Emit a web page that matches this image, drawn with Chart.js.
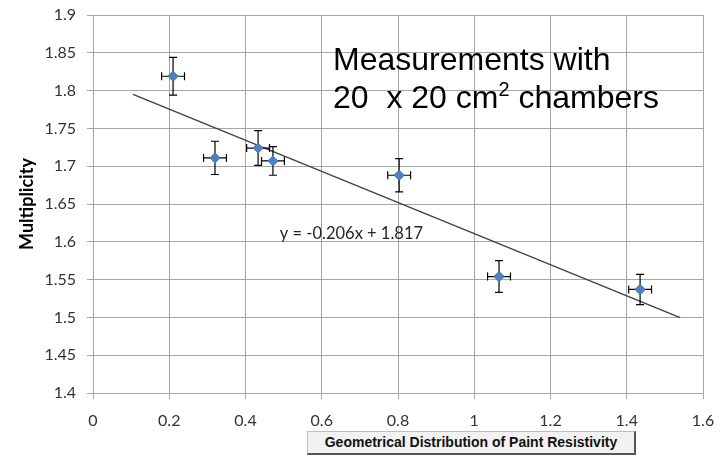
<!DOCTYPE html>
<html>
<head>
    <title>Multiplicity vs Paint Resistivity</title>
    <script src="https://cdn.jsdelivr.net/npm/chart.js"></script>
    <style>
        body { margin: 0; background: #fff; }
        #wrap { position: relative; width: 728px; height: 457px; }
        #note {
            position: absolute; left: 333px; top: 40px;
            font-family: "Liberation Sans", Arial, sans-serif;
            font-size: 32px; line-height: 38px; color: #000;
        }
        #xtitle {
            position: absolute; left: 307px; top: 431px; width: 326px; height: 21px;
            background: #f2f2f2; border: 1px solid #bdbdbd;
            border-right: 2px solid #555; border-bottom: 2px solid #555;
            font-family: "Liberation Sans", Arial, sans-serif; font-weight: bold;
            font-size: 14px; line-height: 21px; text-align: center; color: #111;
        }
    </style>
</head>
<body>
<div id="wrap">
    <canvas id="chart" width="728" height="457"></canvas>
    <div id="note">Measurements with<br>20&nbsp; x 20 cm<sup style="font-size:20px;line-height:0;vertical-align:12px">2</sup> chambers</div>
    <div id="xtitle">Geometrical Distribution of Paint Resistivity</div>
</div>

<script>
    // measured points
    const xVals = [0.21, 0.32, 0.433, 0.472, 0.803, 1.065, 1.435];
    const yVals = [1.819, 1.711, 1.724, 1.707, 1.688, 1.554, 1.537];
    const xErr = [0.03, 0.03, 0.03, 0.03, 0.03, 0.03, 0.03];
    const yErr = [0.025, 0.022, 0.023, 0.019, 0.022, 0.021, 0.02];

    // linear trendline ends
    const trendX = [0.105, 1.54];
    const trendY = [1.795, 1.4998];
    const trendLabel = 'y = -0.206x + 1.817';
    const labelPos = [0.49, 1.611];

    const errorBars = {
        id: 'errorBars',
        afterDatasetsDraw(chart) {
            const ctx = chart.ctx;
            const xs = chart.scales.x, ys = chart.scales.y;
            ctx.save();
            ctx.strokeStyle = '#000';
            ctx.lineWidth = 1.2;
            for (let i = 0; i < xVals.length; i++) {
                const cx = xs.getPixelForValue(xVals[i]);
                const cy = ys.getPixelForValue(yVals[i]);
                const x1 = xs.getPixelForValue(xVals[i] - xErr[i]);
                const x2 = xs.getPixelForValue(xVals[i] + xErr[i]);
                const y1 = ys.getPixelForValue(yVals[i] - yErr[i]);
                const y2 = ys.getPixelForValue(yVals[i] + yErr[i]);
                ctx.beginPath();
                ctx.moveTo(cx, y1); ctx.lineTo(cx, y2);
                ctx.moveTo(cx - 4, y1); ctx.lineTo(cx + 4, y1);
                ctx.moveTo(cx - 4, y2); ctx.lineTo(cx + 4, y2);
                ctx.moveTo(x1, cy); ctx.lineTo(x2, cy);
                ctx.moveTo(x1, cy - 4); ctx.lineTo(x1, cy + 4);
                ctx.moveTo(x2, cy - 4); ctx.lineTo(x2, cy + 4);
                ctx.stroke();
            }
            // redraw markers over the bars
            const meta = chart.getDatasetMeta(1);
            meta.data.forEach(p => p.draw(ctx));
            // trendline equation
            ctx.fillStyle = '#262626';
            ctx.font = '16.5px Lato, "Open Sans", sans-serif';
            ctx.textBaseline = 'middle';
            ctx.fillText(trendLabel, xs.getPixelForValue(labelPos[0]), ys.getPixelForValue(labelPos[1]));
            ctx.restore();
        }
    };

    const tickFont = { family: 'Lato, "Open Sans", sans-serif', size: 16 };
    const gridColor = '#a6a6a6';
    const fmt = v => String(Math.round(v * 100) / 100);

    new Chart(document.getElementById('chart'), {
        type: 'scatter',
        data: {
            datasets: [{
                type: 'line',
                data: trendX.map((x, i) => ({ x: x, y: trendY[i] })),
                borderColor: '#404040',
                borderWidth: 1.3,
                pointRadius: 0,
                fill: false
            }, {
                data: xVals.map((x, i) => ({ x: x, y: yVals[i] })),
                pointStyle: 'rectRot',
                pointRadius: 5,
                backgroundColor: '#4f81bd',
                borderColor: '#4f81bd',
                borderWidth: 1
            }]
        },
        options: {
            animation: false,
            responsive: false,
            layout: { padding: { left: 12, right: 25, top: 15, bottom: 0 } },
            plugins: {
                legend: { display: false },
                tooltip: { enabled: false }
            },
            scales: {
                x: {
                    type: 'linear',
                    min: 0, max: 1.6,
                    afterFit: s => { s.height = 64; s.paddingLeft = 0; s.paddingRight = 0; },
                    ticks: { stepSize: 0.2, color: '#333', font: tickFont, padding: 12, callback: fmt },
                    grid: { color: gridColor, tickLength: 6 },
                    border: { color: gridColor }
                },
                y: {
                    min: 1.4, max: 1.9,
                    afterFit: s => { s.width = 81; s.paddingTop = 0; s.paddingBottom = 0; },
                    ticks: { stepSize: 0.05, color: '#333', font: tickFont, padding: 11, callback: fmt },
                    grid: { color: gridColor, tickLength: 6 },
                    border: { color: gridColor },
                    title: {
                        display: true,
                        text: 'Multiplicity',
                        color: '#000',
                        font: { family: 'Lato, "Liberation Sans", sans-serif', size: 18, weight: 'bold' }
                    }
                }
            }
        },
        plugins: [errorBars]
    });
</script>
</body>
</html>
